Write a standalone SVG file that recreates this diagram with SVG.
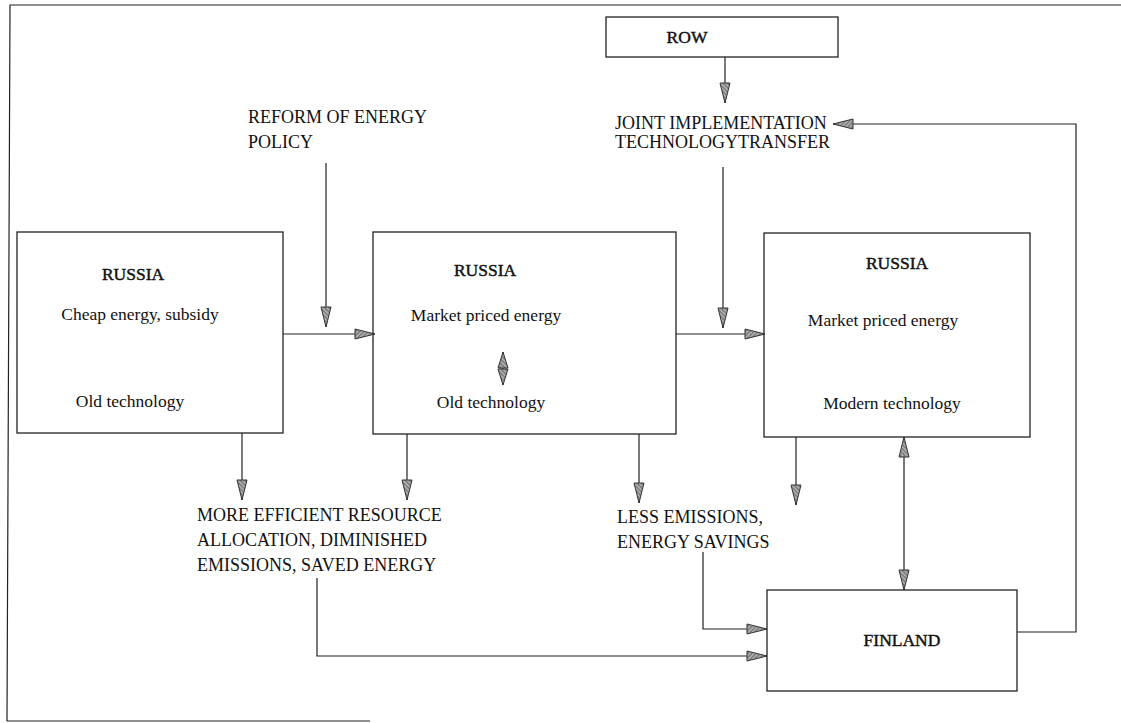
<svg xmlns="http://www.w3.org/2000/svg" width="1121" height="723" viewBox="0 0 1121 723">
<style>
.box{fill:#fff;stroke:#222;stroke-width:1.3}
.ln{fill:none;stroke:#222;stroke-width:1.2}
.t{font-family:"Liberation Serif","Times New Roman",serif;font-size:17.5px;fill:#111}
.c{font-family:"Liberation Serif","Times New Roman",serif;font-size:18px;fill:#111}
.h{font-family:"Liberation Serif","Times New Roman",serif;font-size:17.5px;fill:#111;stroke:#111;stroke-width:0.45}
.mid{text-anchor:middle}
</style>
<defs>
<pattern id="hatch" width="3" height="3" patternUnits="userSpaceOnUse" patternTransform="rotate(45)">
<rect width="3" height="3" fill="#aaa"/><line x1="0" y1="0" x2="0" y2="3" stroke="#444" stroke-width="1.2"/>
</pattern>
<marker id="ah" markerWidth="22" markerHeight="12" refX="21" refY="6" orient="auto-start-reverse" markerUnits="userSpaceOnUse">
<path d="M1,1 L21,6 L1,11 Z" fill="url(#hatch)" stroke="#333" stroke-width="1"/>
</marker>
<marker id="ahs" markerWidth="18" markerHeight="12" refX="17" refY="6" orient="auto-start-reverse" markerUnits="userSpaceOnUse">
<path d="M1,1 L17,6 L1,11 Z" fill="url(#hatch)" stroke="#333" stroke-width="1"/>
</marker>
</defs>
<rect width="1121" height="723" fill="#fff"/>
<g id="frame">
<path class="ln" d="M1121,5 L10,5 L7,721 L370,721"/>
</g>
<g id="russia1">
<rect class="box" x="17" y="232" width="266" height="201"/>
<text class="h mid" x="133" y="280">RUSSIA</text>
<text class="t mid" x="140" y="320">Cheap energy, subsidy</text>
<text class="t mid" x="130" y="407">Old technology</text>
</g>
<g id="russia2">
<rect class="box" x="373" y="232" width="303" height="202"/>
<text class="h mid" x="485" y="276">RUSSIA</text>
<text class="t mid" x="486" y="321">Market priced energy</text>
<text class="t mid" x="491" y="408">Old technology</text>
</g>
<g id="russia3">
<rect class="box" x="764" y="233" width="266" height="204"/>
<text class="h mid" x="897" y="269">RUSSIA</text>
<text class="t mid" x="883" y="326">Market priced energy</text>
<text class="t mid" x="892" y="409">Modern technology</text>
</g>
<g id="row">
<rect class="box" x="606" y="17" width="232" height="40"/>
<text class="h mid" x="687" y="43">ROW</text>
</g>
<g id="finland">
<rect class="box" x="767" y="590" width="250" height="101"/>
<text class="h mid" x="902" y="646">FINLAND</text>
</g>
<g id="labels">
<text class="c" x="248" y="123">REFORM OF ENERGY</text>
<text class="c" x="248" y="148">POLICY</text>
<text class="c" x="615" y="129">JOINT IMPLEMENTATION</text>
<text class="c" x="615" y="148">TECHNOLOGYTRANSFER</text>
<text class="c" x="197" y="521">MORE EFFICIENT RESOURCE</text>
<text class="c" x="197" y="546">ALLOCATION, DIMINISHED</text>
<text class="c" x="197" y="571">EMISSIONS, SAVED ENERGY</text>
<text class="c" x="617" y="523">LESS EMISSIONS,</text>
<text class="c" x="617" y="548">ENERGY SAVINGS</text>
</g>
<g id="connectors">
<line class="ln" x1="283" y1="334" x2="375" y2="334" marker-end="url(#ah)"/>
<line class="ln" x1="326" y1="163" x2="326" y2="327" marker-end="url(#ah)"/>
<line class="ln" x1="676" y1="334" x2="765" y2="334" marker-end="url(#ah)"/>
<line class="ln" x1="723" y1="167" x2="723" y2="328" marker-end="url(#ah)"/>
<line class="ln" x1="725" y1="57" x2="725" y2="103" marker-end="url(#ah)"/>
<line class="ln" x1="503" y1="352" x2="503" y2="385" marker-start="url(#ahs)" marker-end="url(#ahs)"/>
<line class="ln" x1="242" y1="433" x2="242" y2="500" marker-end="url(#ah)"/>
<line class="ln" x1="407" y1="434" x2="407" y2="500" marker-end="url(#ah)"/>
<line class="ln" x1="639" y1="434" x2="639" y2="503" marker-end="url(#ah)"/>
<line class="ln" x1="796" y1="437" x2="796" y2="505" marker-end="url(#ah)"/>
<line class="ln" x1="904" y1="437" x2="904" y2="590" marker-start="url(#ah)" marker-end="url(#ah)"/>
<polyline class="ln" points="317,578 317,656 767,656" marker-end="url(#ah)"/>
<polyline class="ln" points="703,552 703,629 767,629" marker-end="url(#ah)"/>
<polyline class="ln" points="1017,632 1076,632 1076,124 833,124" marker-end="url(#ah)"/>
</g>
</svg>
